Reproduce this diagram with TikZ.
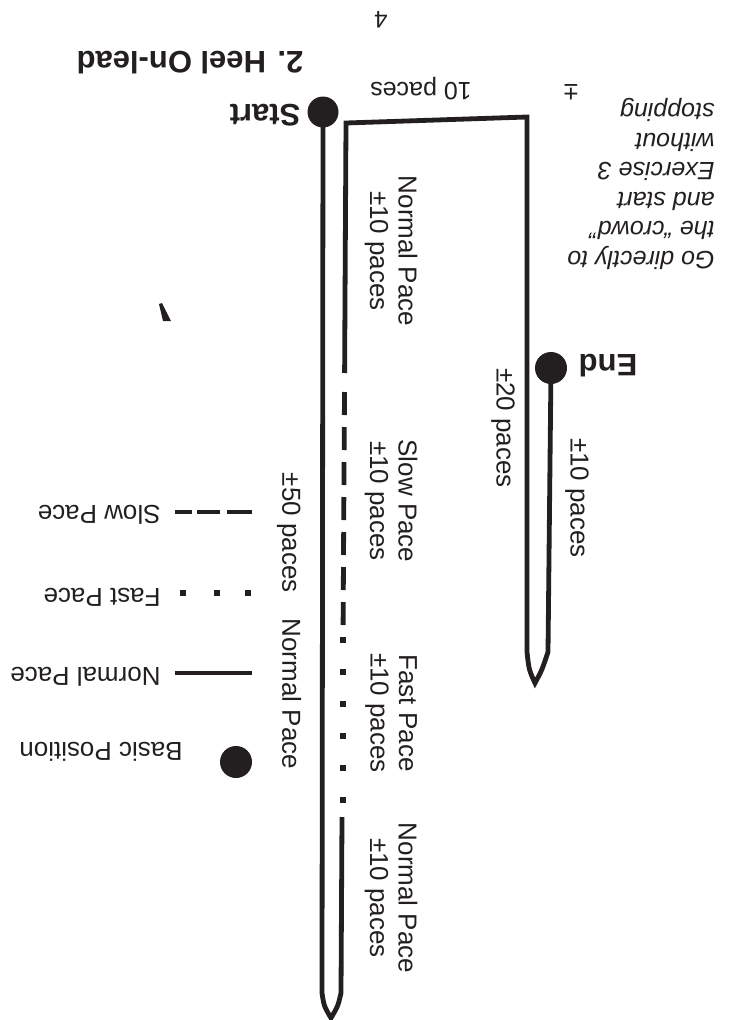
\documentclass[tikz,border=0pt]{standalone}
\usepackage{fontspec}
\setmainfont{Liberation Sans}
\newcommand{\varw}{4.8pt}
\newcommand{\vardot}{2.6}
\definecolor{myblack}{RGB}{35,31,32}

\begin{document}
\begin{tikzpicture}[x=1pt, y=-1pt, line width=\varw, color=myblack,
	lbl/.style={font=\fontsize{26}{28.5}\selectfont, inner sep=0pt, align=center},
	udlbl/.style={lbl, rotate=180},
	vlbl/.style={lbl, rotate=-90},
	boldlbl/.style={font=\fontsize{31}{34}\selectfont\bfseries, inner sep=0pt, rotate=180},
	spot/.style={circle, fill=myblack, inner sep=0pt, minimum size=31pt}]

	\useasboundingbox (0,0) rectangle (735,1020);

	% headings
	\node[boldlbl] (title) at (190,63) {2. Heel On-lead};
	\node[boldlbl] (startlbl) at (265,115) {Start};
	\node[boldlbl] (endlbl) at (608,366) {End};
	\node[udlbl, font=\fontsize{24}{26}\selectfont] (page) at (381,20) {4};

	% positions
	\node[spot] (start) at (323,112) {};
	\node[spot, minimum size=32pt] (end) at (551,368) {};

	% track
	\draw (start.center) -- (322,993) .. controls (324,1006) .. (331,1018)
		.. controls (338,1006) .. (341,993) -- (342,817);
	\draw (344.6,373) -- (346,123) -- (527,117) -- (527,652)
		.. controls (529,670) .. (535,683) .. controls (542,670) .. (548,652) -- (end.center);

	% slow pace
	\draw[dash pattern=on 23pt off 12pt] (344.5,392) -- (343.1,625);

	% fast pace
	\foreach \y in {640,672,...,800}
		\fill (343,\y) ++(-\vardot,-\vardot) rectangle ++(2*\vardot,2*\vardot);

	% stray tick
	\fill (159,304) -- (162,303) -- (171,321) -- (163,321) -- cycle;

	% paces
	\node[vlbl] (np1) at (391,251) {Normal Pace\\±10 paces};
	\node[vlbl] (sp) at (391,501) {Slow Pace\\±10 paces};
	\node[vlbl] (fp) at (391,713) {Fast Pace\\±10 paces};
	\node[vlbl] (np2) at (391,898) {Normal Pace\\±10 paces};
	\node[vlbl] (twenty) at (503,428) {±20 paces};
	\node[vlbl] (tenend) at (577,498) {±10 paces};
	\node[vlbl] (fifty) at (289,621) {±50 paces\quad Normal Pace};
	\node[udlbl, font=\fontsize{25}{27}\selectfont] (tentop) at (421,89) {10 paces};
	\node[udlbl] (pm) at (571,92) {±};

	% note
	\node[udlbl, anchor=west, align=left, font=\fontsize{25}{29.5}\selectfont\itshape] (note) at (717,184)
		{Go directly to\\the “crowd”\\and start\\Exercise 3\\without\\stopping};

	% legend
	\draw (175,512) -- (192,512) (197,512) -- (220,512) (227,512) -- (252,512);
	\foreach \x in {183,217,248}
		\fill (\x,593) ++(-\vardot,-\vardot) rectangle ++(2*\vardot,2*\vardot);
	\draw (175,673) -- (252,673);
	\node[spot, minimum size=32pt] (basic) at (236,762) {};
	\node[udlbl, anchor=west] (lslow) at (163,515) {Slow Pace};
	\node[udlbl, anchor=west] (lfast) at (163,597) {Fast Pace};
	\node[udlbl, anchor=west] (lnormal) at (163,677) {Normal Pace};
	\node[udlbl, anchor=west] (lbasic) at (185,752) {Basic Position};

\end{tikzpicture}
\end{document}
